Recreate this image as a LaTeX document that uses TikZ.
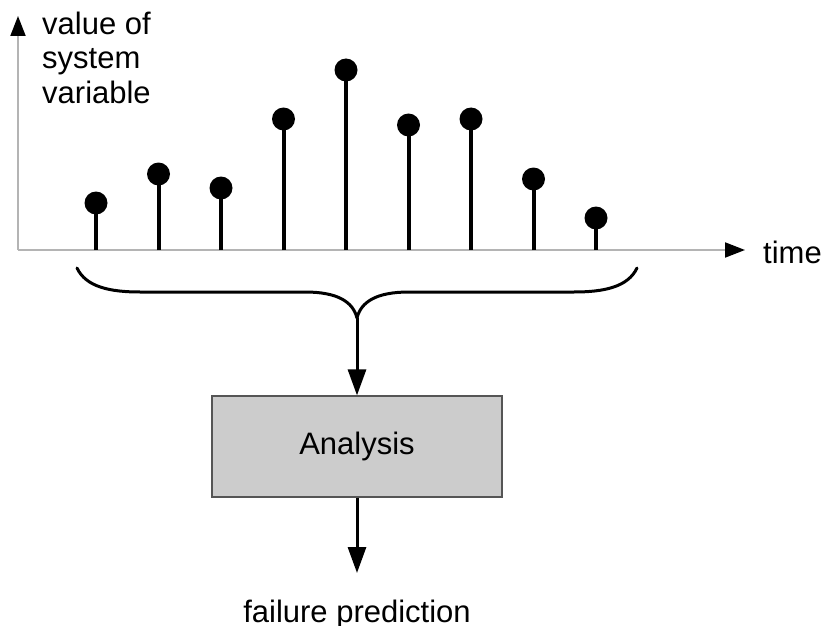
\documentclass[tikz,border=0pt]{standalone}
\usepackage{fontspec}
\setmainfont{Liberation Sans}
\usetikzlibrary{arrows.meta}
\definecolor{axisgray}{HTML}{B4B4B4}
\definecolor{boxfill}{HTML}{CCCCCC}
\definecolor{boxline}{HTML}{555555}
\tikzset{
  lbl/.style={inner sep=0pt, font=\fontsize{31}{34}\selectfont},
  axis/.style={draw=axisgray, line width=2pt,
    -{Triangle[length=20pt, width=15pt, color=black]}},
  stem/.style={line width=4pt, black},
  dot/.style={fill=black, draw=none},
  flow/.style={line width=3pt, -{Triangle[length=26pt, width=18pt]}},
  brace/.style={line width=3pt, line cap=round},
  procbox/.style={draw=boxline, line width=1.2pt, fill=boxfill,
    minimum width=290pt, minimum height=101pt, inner sep=0pt,
    font=\fontsize{31}{34}\selectfont}
}
\begin{document}
\begin{tikzpicture}[x=1pt, y=-1pt]
  \useasboundingbox (0,0) rectangle (823,626);

  % axes
  \coordinate (origin) at (18,250);
  \coordinate (xend) at (745,250);
  \coordinate (yend) at (18,16);
  \draw[axis] (origin) -- (xend);
  \draw[axis] (origin) -- (yend);
  \node[lbl, anchor=base west] (tlabel) at (763,263) {time};
  \node[lbl, anchor=base west] (ylab1) at (42,35) {value of};
  \node[lbl, anchor=base west] (ylab2) at (42,69) {system};
  \node[lbl, anchor=base west] (ylab3) at (42,103) {variable};

  % samples of the system variable
  \foreach \i/\h in {0/203, 1/174, 2/188, 3/119, 4/70, 5/125, 6/119, 7/179, 8/218} {
    \pgfmathsetmacro{\xx}{96+62.5*\i}
    \coordinate (b\i) at (\xx,250);
    \coordinate (t\i) at (\xx,\h);
    \draw[stem] (b\i) -- (t\i);
    \fill[dot] (t\i) circle (11.5pt);
  }

  % curly brace grouping the samples
  \coordinate (bl) at (77,268);
  \coordinate (br) at (637,268);
  \coordinate (cusp) at (357,318);
  \draw[brace] (bl) .. controls (86,287) and (110,292) .. (140,292)
    -- (305,292) .. controls (338,292) and (353,302) .. (cusp);
  \draw[brace] (br) .. controls (628,287) and (604,292) .. (574,292)
    -- (409,292) .. controls (376,292) and (361,302) .. (cusp);

  % analysis block
  \node[procbox] (analysis) at (357,446.5) {Analysis};
  \node[lbl, anchor=base] (pred) at (357,622) {failure prediction};

  \draw[flow] (cusp) -- (analysis.north);
  \draw[flow] (analysis.south) -- (357,573) coordinate (predtip);
\end{tikzpicture}
\end{document}
